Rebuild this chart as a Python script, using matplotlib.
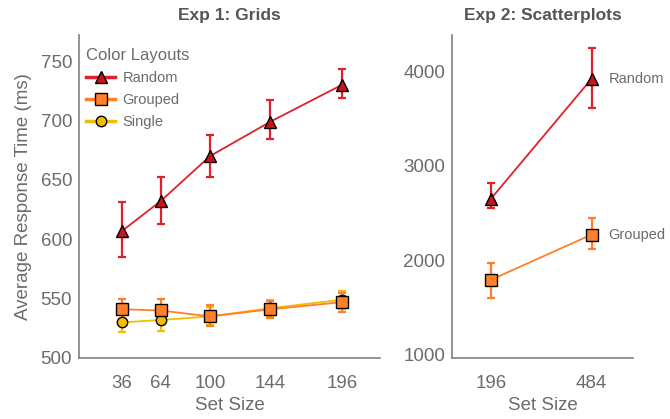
import os

os.environ.setdefault("MPLCONFIGDIR", "/tmp/matplotlib")

import matplotlib.pyplot as plt
import numpy as np

# Exp 1: grids
grid_sizes = [36, 64, 100, 144, 196]
grid_random = [607, 632, 670, 699, 730]
grid_random_lo = [585, 613, 652, 684, 719]
grid_random_hi = [631, 652, 688, 717, 743]
grid_grouped = [541, 540, 535, 541, 547]
grid_grouped_lo = [532, 530, 527, 534, 539]
grid_grouped_hi = [550, 550, 545, 548, 555]
grid_single = [530, 532, 535, 542, 549]
grid_single_lo = [522, 523, 528, 535, 541]
grid_single_hi = [538, 540, 543, 549, 556]

# Exp 2: scatterplots
scatter_sizes = ["196", "484"]
scatter_random = [2650, 3925]
scatter_random_lo = [2550, 3615]
scatter_random_hi = [2820, 4255]
scatter_grouped = [1790, 2270]
scatter_grouped_lo = [1600, 2117]
scatter_grouped_hi = [1970, 2445]

RED_LINE = "#e0202a"
RED_FILL = "#c8141e"
ORANGE = "#ff7f2a"
YELLOW = "#f2bd00"
TEXT = "#6b6b6b"
SPINE = "#808080"

plt.rcParams["font.family"] = ["Liberation Sans", "DejaVu Sans"]


def draw_series(ax, x, y, lo, hi, line_color, fill, marker, ms, label=None):
    y = np.array(y)
    err = [y - np.array(lo), np.array(hi) - y]
    ax.errorbar(x, y, yerr=err, fmt="none", ecolor=line_color, elinewidth=1.6,
                capsize=3, capthick=1.6, zorder=2)
    ax.plot(x, y, color=line_color, lw=1.3, marker=marker, ms=ms,
            markerfacecolor=fill, markeredgecolor="black", markeredgewidth=1.0,
            label=label, zorder=3)


def style_axes(ax):
    for side in ("top", "right"):
        ax.spines[side].set_visible(False)
    for side in ("left", "bottom"):
        ax.spines[side].set_color(SPINE)
        ax.spines[side].set_linewidth(1.2)
    ax.tick_params(axis="y", length=0, labelsize=13.5, labelcolor=TEXT, pad=5)
    ax.tick_params(axis="x", length=0, labelsize=13.5, labelcolor=TEXT, pad=12)
    ax.set_xlabel("Set Size", fontsize=13.5, color=TEXT, labelpad=4)


fig = plt.figure(figsize=(6.7, 4.19), dpi=100)
ax1 = fig.add_axes([0.118, 0.1456, 0.449, 0.771])
ax2 = fig.add_axes([0.6746, 0.1456, 0.270, 0.771])

draw_series(ax1, grid_sizes, grid_single, grid_single_lo, grid_single_hi,
            YELLOW, YELLOW, "o", 7.5, "Single")
draw_series(ax1, grid_sizes, grid_grouped, grid_grouped_lo, grid_grouped_hi,
            ORANGE, ORANGE, "s", 8, "Grouped")
draw_series(ax1, grid_sizes, grid_random, grid_random_lo, grid_random_hi,
            RED_LINE, RED_FILL, "^", 9, "Random")

ax1.set_xlim(4.7, 223.6)
ax1.set_ylim(500, 772)
ax1.set_xticks(grid_sizes)
ax1.set_yticks(np.arange(500, 751, 50))
style_axes(ax1)
ax1.set_ylabel("Average Response Time (ms)", fontsize=13.5, color=TEXT, labelpad=6)
ax1.set_title("Exp 1: Grids", fontsize=12.5, fontweight="bold", color="#555555", pad=11)

handles, labels = ax1.get_legend_handles_labels()
leg = ax1.legend(handles[::-1], labels[::-1], title="Color Layouts", loc="upper left",
                 bbox_to_anchor=(-0.01, 0.99), frameon=False, fontsize=10.5,
                 title_fontsize=12, handlelength=2.0, handletextpad=0.5,
                 labelspacing=0.55, borderaxespad=0.3)
leg._legend_box.align = "left"
leg.get_title().set_color(TEXT)
for txt in leg.get_texts():
    txt.set_color(TEXT)
for line in leg.get_lines():
    line.set_linewidth(2.5)

xs = np.arange(len(scatter_sizes))
draw_series(ax2, xs, scatter_grouped, scatter_grouped_lo, scatter_grouped_hi,
            ORANGE, ORANGE, "s", 8)
draw_series(ax2, xs, scatter_random, scatter_random_lo, scatter_random_hi,
            RED_LINE, RED_FILL, "^", 9)
ax2.set_xlim(-0.386, 1.41)
ax2.set_ylim(960, 4390)
ax2.set_xticks(xs)
ax2.set_xticklabels(scatter_sizes)
ax2.set_yticks([1000, 2000, 3000, 4000])
style_axes(ax2)
ax2.set_title("Exp 2: Scatterplots", fontsize=12.5, fontweight="bold", color="#555555", pad=11)
ax2.annotate("Random", (xs[-1], scatter_random[-1]), xytext=(12, 0),
             textcoords="offset points", va="center", fontsize=10.5, color=TEXT)
ax2.annotate("Grouped", (xs[-1], scatter_grouped[-1]), xytext=(12, 0),
             textcoords="offset points", va="center", fontsize=10.5, color=TEXT)

fig.savefig("out.png", dpi=100)
plt.close(fig)
